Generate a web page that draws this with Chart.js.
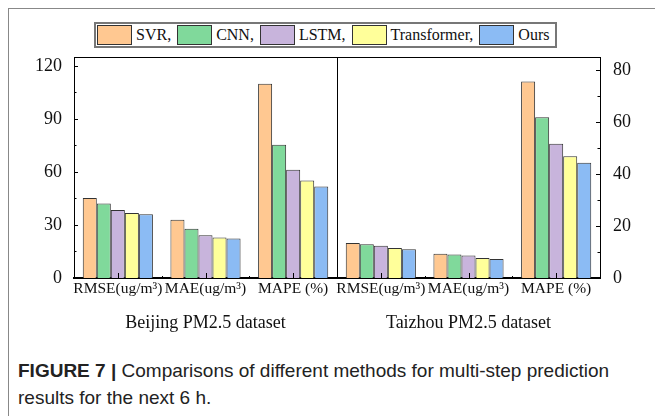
<!DOCTYPE html>
<html>
<head>
<meta charset="utf-8">
<script src="https://cdn.jsdelivr.net/npm/chart.js@4.4.0/dist/chart.umd.min.js"></script>
<style>
  body { margin: 0; background: #fff; width: 655px; height: 416px; overflow: hidden; position: relative; }
  #frame { position: absolute; left: 8px; top: 8px; width: 700px; height: 500px;
           border-top: 1px solid #888; border-left: 1px solid #888; }
  #wrap { position: absolute; left: 0; top: 0; width: 655px; height: 345px; }
  #legend { position: absolute; left: 94px; top: 22px; height: 22px; border: 2px solid #777;
            display: flex; align-items: center; padding: 0 1px; background: #fff;
            font: 16px "Liberation Serif", serif; color: #111; }
  #legend .sw { width: 33px; height: 18px; border: 1px solid #333; margin-right: 4px; }
  #legend .lab { margin-right: 6px; white-space: nowrap; }
  #legend .lab:last-child { margin-right: 5px; }
  #caption { position: absolute; left: 18px; top: 357px; font: 19px "Liberation Sans", Arial, sans-serif;
             color: #222; line-height: 27px; }
  #caption b { font-weight: bold; }
</style>
</head>
<body>
<div id="frame"></div>
<div id="wrap"><canvas id="chart" width="655" height="345"></canvas></div>
<div id="legend"></div>
<div id="caption"><b>FIGURE 7 |</b> Comparisons of different methods for multi-step prediction<br>results for the next 6 h.</div>
<script>
// categories along the x axis (three per dataset)
const categories = ['RMSE(ug/m³)', 'MAE(ug/m³)', 'MAPE (%)', 'RMSE(ug/m³)', 'MAE(ug/m³)', 'MAPE (%)'];
const groups = ['Beijing PM2.5 dataset', 'Taizhou PM2.5 dataset'];
const methods = ['SVR', 'CNN', 'LSTM', 'Transformer', 'Ours'];
const colors = ['#ffc891', '#80d99b', '#c8b4dc', '#ffff9a', '#8bbbf4'];

// values per method (SVR, CNN, LSTM, Transformer, Ours)
const beijingRMSE = [45.3, 42.2, 38.5, 36.8, 36.1];
const beijingMAE  = [32.9, 27.8, 24.2, 22.9, 22.3];
const beijingMAPE = [109.8, 75.4, 61.2, 55.2, 51.8];
const taizhouRMSE = [13.5, 13.0, 12.4, 11.5, 11.1];
const taizhouMAE  = [9.3, 9.0, 8.7, 7.7, 7.3];
const taizhouMAPE = [75.6, 61.8, 51.6, 46.8, 44.3];

const leftTicks = [0, 30, 60, 90, 120];
const rightTicks = [0, 20, 40, 60, 80];

Chart.defaults.font.family = '"Liberation Serif", serif';
Chart.defaults.font.size = 18;
Chart.defaults.color = '#111';

// legend (html, built from the same arrays)
const legendEl = document.getElementById('legend');
methods.forEach((m, i) => {
  const sw = document.createElement('span');
  sw.className = 'sw';
  sw.style.background = colors[i];
  const lab = document.createElement('span');
  lab.className = 'lab';
  lab.textContent = i < methods.length - 1 ? m + ',' : m;
  legendEl.appendChild(sw);
  legendEl.appendChild(lab);
});

// one dataset per method per axis, nulls skipped so each group has 5 bars
const datasets = [];
methods.forEach((m, i) => {
  datasets.push({
    label: m,
    data: [beijingRMSE[i], beijingMAE[i], beijingMAPE[i], null, null, null],
    backgroundColor: colors[i], borderColor: '#333', borderWidth: 1,
    yAxisID: 'yL'
  });
});
methods.forEach((m, i) => {
  datasets.push({
    label: m,
    data: [null, null, null, taizhouRMSE[i], taizhouMAE[i], taizhouMAPE[i]],
    backgroundColor: colors[i], borderColor: '#333', borderWidth: 1,
    yAxisID: 'yR'
  });
});

// inward tick marks, top frame and the middle divider
const framePlugin = {
  id: 'framePlugin',
  afterDraw(chart) {
    const { ctx, chartArea: a, scales } = chart;
    const xs = scales.x, yl = scales.yL, yr = scales.yR;
    ctx.save();
    ctx.strokeStyle = '#000';
    ctx.lineWidth = 1;
    ctx.beginPath();
    ctx.moveTo(a.left, a.top + 0.5);
    ctx.lineTo(a.right, a.top + 0.5);
    const mid = Math.round((xs.getPixelForValue(2) + xs.getPixelForValue(3)) / 2) + 0.5;
    ctx.moveTo(mid, a.top);
    ctx.lineTo(mid, a.bottom);
    categories.forEach((c, i) => {
      const px = Math.round(xs.getPixelForValue(i)) + 0.5;
      ctx.moveTo(px, a.bottom);
      ctx.lineTo(px, a.bottom - 5);
      if (i > 0 && i !== 3) {
        const bx = Math.round((xs.getPixelForValue(i - 1) + xs.getPixelForValue(i)) / 2) + 0.5;
        ctx.moveTo(bx, a.bottom);
        ctx.lineTo(bx, a.bottom - 2);
      }
    });
    leftTicks.forEach(v => {
      const py = Math.round(yl.getPixelForValue(v)) + 0.5;
      ctx.moveTo(a.left, py); ctx.lineTo(a.left + 4, py);
      if (v + 15 < yl.max) {
        const my = Math.round(yl.getPixelForValue(v + 15)) + 0.5;
        ctx.moveTo(a.left, my); ctx.lineTo(a.left + 2.5, my);
      }
    });
    rightTicks.forEach(v => {
      const py = Math.round(yr.getPixelForValue(v)) + 0.5;
      ctx.moveTo(a.right, py); ctx.lineTo(a.right - 4, py);
      if (v + 10 < yr.max) {
        const my = Math.round(yr.getPixelForValue(v + 10)) + 0.5;
        ctx.moveTo(a.right, my); ctx.lineTo(a.right - 2.5, my);
      }
    });
    ctx.stroke();
    ctx.restore();
  }
};

new Chart(document.getElementById('chart').getContext('2d'), {
  type: 'bar',
  data: { labels: categories, datasets: datasets },
  options: {
    responsive: false,
    animation: false,
    layout: { padding: { top: 57, left: 0, right: 0, bottom: 0 } },
    plugins: { legend: { display: false }, tooltip: { enabled: false } },
    datasets: { bar: { skipNull: true, categoryPercentage: 0.8, barPercentage: 1.0 } },
    scales: {
      x: {
        type: 'category', offset: true, weight: 0,
        grid: { display: false },
        border: { color: '#000', width: 2 },
        ticks: { font: { size: 15.5 }, padding: -6, maxRotation: 0, autoSkip: false },
        afterFit: s => { s.height = 23; }
      },
      x2: {
        type: 'category', position: 'bottom', labels: groups, offset: true, weight: 1,
        grid: { display: false },
        border: { display: false },
        ticks: { font: { size: 18 }, padding: 3, maxRotation: 0 },
        afterFit: s => { s.height = 44; }
      },
      yL: {
        type: 'linear', position: 'left', min: 0, max: 125,
        grid: { display: false },
        border: { color: '#000', width: 1 },
        ticks: { stepSize: 30, includeBounds: false, font: { size: 18 }, padding: 4 },
        afterFit: s => { s.width = 74; }
      },
      yR: {
        type: 'linear', position: 'right', min: 0, max: 85,
        grid: { display: false },
        border: { color: '#000', width: 1 },
        ticks: { stepSize: 20, includeBounds: false, font: { size: 18 }, padding: 5 },
        afterFit: s => { s.width = 55; }
      }
    }
  },
  plugins: [framePlugin]
});
</script>
</body>
</html>
